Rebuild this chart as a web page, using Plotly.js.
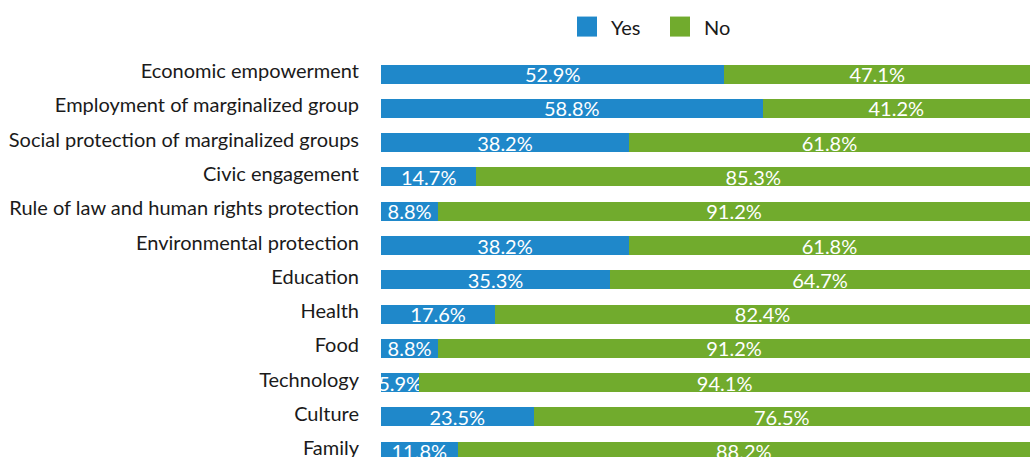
<!DOCTYPE html>
<html>
<head>
<meta charset="utf-8">
<script src="https://cdn.plot.ly/plotly-3.0.1.min.js"></script>
<style>
  html, body { margin: 0; padding: 0; overflow: hidden; background: #fff; }
  #chart { width: 1030px; height: 457px; }
</style>
</head>
<body>
<div id="chart"></div>
<script>
const categories = [
  "Economic empowerment",
  "Employment of marginalized group",
  "Social protection of marginalized groups",
  "Civic engagement",
  "Rule of law and human rights protection",
  "Environmental protection",
  "Education",
  "Health",
  "Food",
  "Technology",
  "Culture",
  "Family"
];
const yesValues = [52.9, 58.8, 38.2, 14.7, 8.8, 38.2, 35.3, 17.6, 8.8, 5.9, 23.5, 11.8];
const noValues  = [47.1, 41.2, 61.8, 85.3, 91.2, 61.8, 64.7, 82.4, 91.2, 94.1, 76.5, 88.2];
const seriesNames = ["Yes", "No"];
const seriesColors = ["#1f88ca", "#71ab2d"];

const FONT = "Lato, 'Open Sans', sans-serif";

function barTrace(name, values, color) {
  return {
    type: "bar",
    orientation: "h",
    name: name,
    y: categories,
    x: values,
    marker: { color: color, line: { width: 0 } },
    text: values.map(v => v.toFixed(1) + "%"),
    texttemplate: "%{text}",
    textposition: "inside",
    insidetextanchor: "middle",
    textangle: 0,
    constraintext: "none",
    textfont: { family: FONT, size: 20, color: "#ffffff" },
    hoverinfo: "y+text+name",
    showlegend: false
  };
}

const data = [
  barTrace(seriesNames[0], yesValues, seriesColors[0]),
  barTrace(seriesNames[1], noValues, seriesColors[1])
];

// custom legend (larger square swatches like the reference)
const plotTop = 57.4, plotH = 457 - plotTop, plotLeft = 381, plotW = 1030 - plotLeft;
const px = x => (x - plotLeft) / plotW;
const py = y => 1 + (plotTop - y) / plotH;
const legendItems = [
  { name: seriesNames[0], color: seriesColors[0], x0: 577 },
  { name: seriesNames[1], color: seriesColors[1], x0: 670 }
];
const shapes = legendItems.map(it => ({
  type: "rect", xref: "paper", yref: "paper",
  x0: px(it.x0), x1: px(it.x0 + 20), y0: py(37), y1: py(17),
  fillcolor: it.color, line: { width: 0 }
}));
const annotations = legendItems.map(it => ({
  xref: "paper", yref: "paper",
  x: px(it.x0 + 32), y: py(27),
  xanchor: "left", yanchor: "middle",
  text: it.name, showarrow: false,
  font: { family: FONT, size: 20, color: "#1a1a1a" }
}));

const layout = {
  width: 1030,
  height: 457,
  margin: { l: plotLeft, r: 0, t: plotTop, b: 0, pad: 0 },
  barmode: "stack",
  bargap: 0.445,
  paper_bgcolor: "#ffffff",
  plot_bgcolor: "#ffffff",
  showlegend: false,
  font: { family: FONT, size: 20, color: "#1a1a1a" },
  xaxis: {
    range: [0, 100],
    visible: false,
    showgrid: false,
    zeroline: false,
    fixedrange: true
  },
  yaxis: {
    type: "category",
    range: [11.17, -0.5],
    showgrid: false,
    zeroline: false,
    showline: false,
    ticks: "",
    ticklabelstandoff: 21,
    ticklabelshift: 3,
    tickfont: { family: FONT, size: 20, color: "#1a1a1a" },
    fixedrange: true
  },
  shapes: shapes,
  annotations: annotations
};

Plotly.newPlot("chart", data, layout, { displayModeBar: false, staticPlot: true });
</script>
</body>
</html>
